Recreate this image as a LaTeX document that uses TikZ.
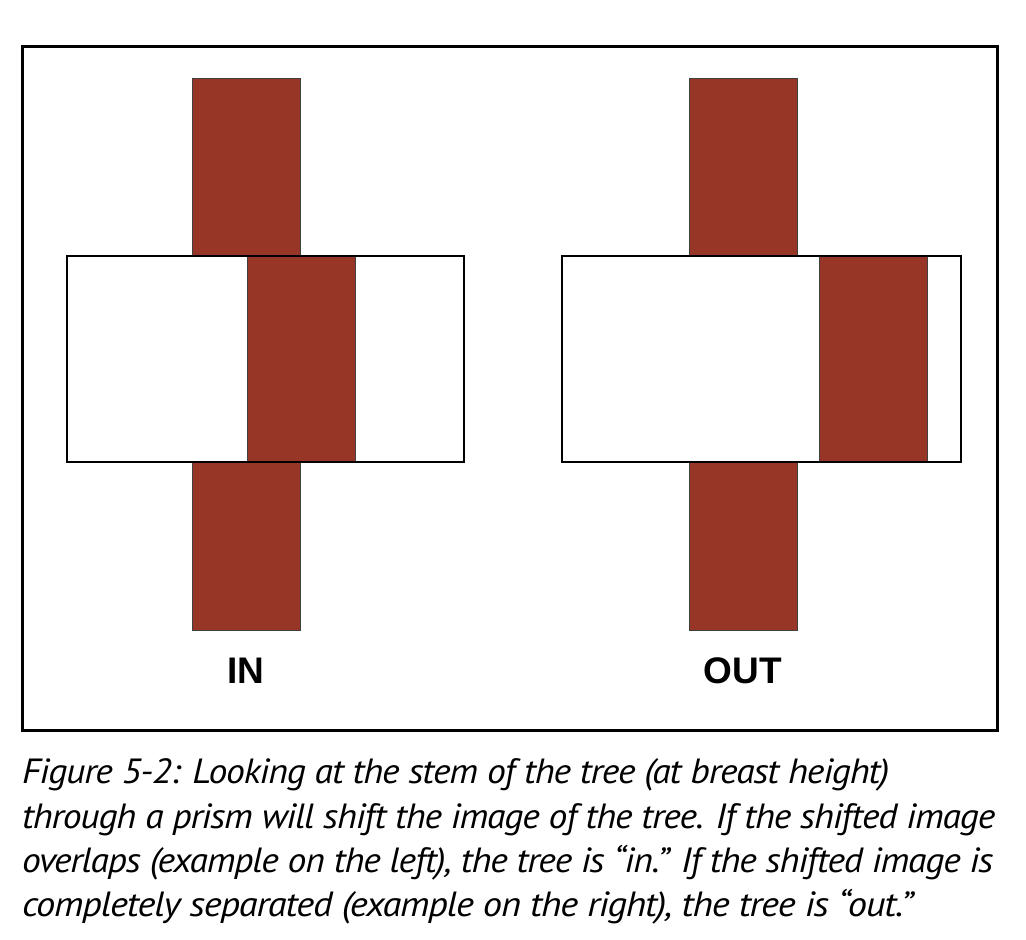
\documentclass[tikz,border=0pt]{standalone}
\usepackage{fontspec}
\setmainfont{PT Sans}
\newfontfamily\capfont[LetterSpace=-3.0]{PT Sans}
\newfontfamily\labelfont{Liberation Sans}
\definecolor{stem}{RGB}{151,54,39}
\begin{document}
\begin{tikzpicture}[x=1pt,y=-1pt,
  stembox/.style={fill=stem,draw=black!75,line width=0.9pt},
  prism/.style={draw=black,line width=2.6pt},
  lbl/.style={font=\labelfont\bfseries\fontsize{37}{40}\selectfont,anchor=base,inner sep=0pt},
  captext/.style={font=\capfont\itshape\fontsize{35}{38}\selectfont,anchor=base west,inner sep=0pt}]
\useasboundingbox (0,0) rectangle (1026,940);
% frame
\draw[line width=3pt] (22.5,46.5) rectangle (997.5,730.5);
% left (IN)
\draw[stembox] (192,78) rectangle (300,630);
\fill[white] (67,256) rectangle (464,462);
\draw[stembox] (247,256) rectangle (355,462);
\draw[prism] (67,256) rectangle (464,462);
\node[lbl] (in) at (245.5,683) {IN};
% right (OUT)
\draw[stembox] (689,78) rectangle (797,630);
\fill[white] (562,256) rectangle (961,462);
\draw[stembox] (819,256) rectangle (927,462);
\draw[prism] (562,256) rectangle (961,462);
\node[lbl] (out) at (743,683) {OUT};
% caption
\node[captext] (c1) at (22,783) {\resizebox{867pt}{\height}{Figure 5-2: Looking at the stem of the tree (at breast height)}};
\node[captext] (c2) at (22,828) {\resizebox{973pt}{\height}{through a prism will shift the image of the tree. If the shifted image}};
\node[captext] (c3) at (22,872) {\resizebox{971pt}{\height}{overlaps (example on the left), the tree is “in.” If the shifted image is}};
\node[captext] (c4) at (22,916) {\resizebox{891pt}{\height}{completely separated (example on the right), the tree is “out.”}};
\end{tikzpicture}
\end{document}
